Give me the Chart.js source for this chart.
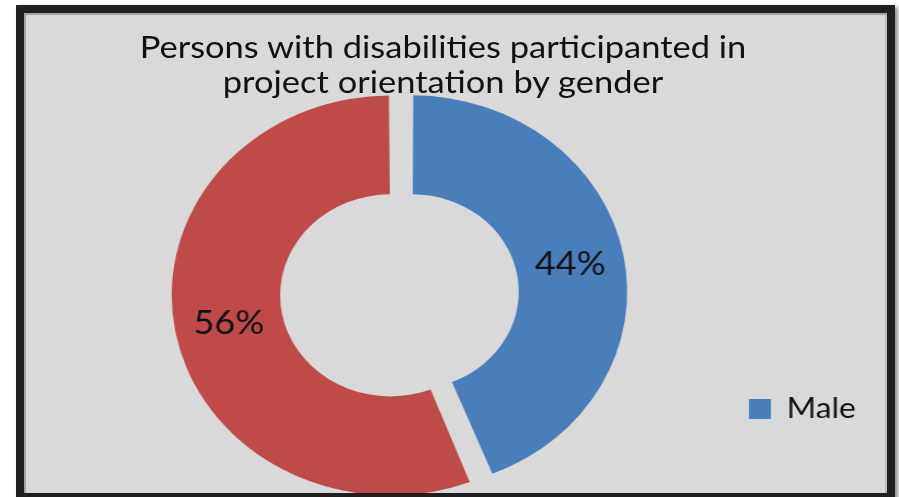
<!DOCTYPE html>
<html>
<head>
<meta charset="utf-8">
<script src="https://cdn.jsdelivr.net/npm/chart.js@4.4.0/dist/chart.umd.min.js"></script>
<style>
  html, body { margin: 0; padding: 0; background: #fff; width: 899px; height: 497px; overflow: hidden; }
  #frame {
    position: absolute; left: 16px; top: 5px;
    width: 863px; height: 480px;
    border: 8px solid #221f20;
    box-shadow: 3px 2px 4px rgba(0,0,0,0.45);
  }
  #plot {
    position: absolute; left: 0; top: 0;
    width: 863px; height: 480px;
    overflow: hidden;
    background: #d9d9d9;
    box-shadow: inset 2px 2px 0 #a3a3a3, inset -2px 0 0 #bdbdbd;
  }
  /* the drawing is stretched horizontally, like the printed figure */
  #chart { position: absolute; left: 0; top: 0; transform-origin: 0 0; transform: scaleX(1.095); }
  #title {
    position: absolute; left: 0; top: 15.5px; width: 838px;
    text-align: center; white-space: nowrap;
    font-family: Lato, "Open Sans", sans-serif; font-size: 31.5px; line-height: 35px;
    color: #111111;
    transform-origin: 50% 0; transform: scaleX(1.095);
  }
</style>
</head>
<body>
<div id="frame"><div id="plot">
  <canvas id="chart" width="788" height="480"></canvas>
  <div id="title"></div>
</div></div>
<script>
// Participation by gender (percent)
const categories = ['Male', 'Female'];
const shares = [44, 56];
const sliceColors = ['#4a7ebb', '#be4b48'];
const titleLines = ['Persons with disabilities participanted in', 'project orientation by gender'];

const FONT = 'Lato, "Open Sans", sans-serif';

// chart title
const titleEl = document.getElementById('title');
titleLines.forEach(line => {
  const d = document.createElement('div');
  d.textContent = line;
  titleEl.appendChild(d);
});

// layout (canvas pixels)
const W = 788, H = 480;
const centre = { x: 344.7, y: 280.5 };
const legendRowY = 396;        // middle of the legend row
const legendItemLeft = 662.1;  // left edge of the legend swatch
const legendPad = 10, legendFontSize = 29, swatch = 20;

const measure = document.createElement('canvas').getContext('2d');
measure.font = `normal ${legendFontSize}px ${FONT}`;
const legendWidth = legendPad + swatch + legendFontSize / 2 + measure.measureText(categories[0]).width + 4;
const legendLeft = legendItemLeft - legendPad;
const padLeft = 2 * centre.x - legendLeft;
const padRight = W - legendLeft - legendWidth;
const padBottom = H - (legendRowY + legendFontSize / 2 + legendPad);
const padTop = 2 * centre.y - H + padBottom;

// Percent labels placed in the middle of each (exploded) ring segment
const sliceLabels = {
  id: 'sliceLabels',
  afterDatasetsDraw(chart) {
    const { ctx } = chart;
    const meta = chart.getDatasetMeta(0);
    ctx.save();
    ctx.font = `33px ${FONT}`;
    ctx.fillStyle = '#111111';
    ctx.textAlign = 'center';
    ctx.textBaseline = 'middle';
    meta.data.forEach((arc, i) => {
      const p = arc.getProps(['x', 'y', 'startAngle', 'endAngle', 'innerRadius', 'outerRadius'], true);
      const mid = (p.startAngle + p.endAngle) / 2;
      const shift = (arc.options.offset || 0) / 4;
      const fix = 1 - Math.sin(Math.min(Math.PI, p.endAngle - p.startAngle));
      const r = (p.innerRadius + p.outerRadius) / 2 + shift + shift * fix;
      ctx.fillText(shares[i] + '%', p.x + Math.cos(mid) * r, p.y + Math.sin(mid) * r);
    });
    ctx.restore();
  }
};

new Chart(document.getElementById('chart'), {
  type: 'doughnut',
  data: {
    labels: categories,
    datasets: [{
      data: shares,
      backgroundColor: sliceColors,
      borderWidth: 0,
      offset: 40,
      hoverOffset: 40
    }]
  },
  options: {
    responsive: false,
    animation: false,
    events: [],
    radius: 190,
    cutout: '47.9%',
    layout: { padding: { left: padLeft, right: padRight, top: padTop, bottom: padBottom } },
    plugins: {
      title: { display: false },
      legend: {
        position: 'right',
        align: 'end',
        maxWidth: legendWidth,
        labels: {
          filter: item => item.index === 0,
          boxWidth: swatch,
          boxHeight: swatch,
          padding: legendPad,
          color: '#111111',
          font: { family: FONT, size: legendFontSize }
        }
      },
      tooltip: { enabled: false }
    }
  },
  plugins: [sliceLabels]
});
</script>
</body>
</html>
